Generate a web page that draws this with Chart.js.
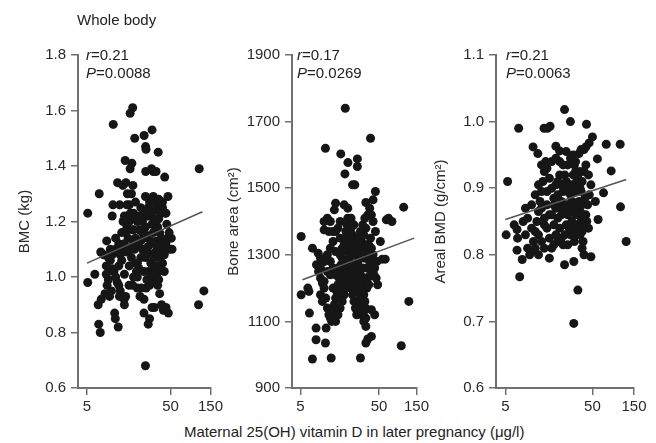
<!DOCTYPE html>
<html>
<head>
<meta charset="utf-8">
<script src="https://cdn.jsdelivr.net/npm/chart.js@4.4.0/dist/chart.umd.min.js"></script>
<style>
  body { margin: 0; background: #fff; font-family: "Liberation Sans", Arial, sans-serif; color: #222; }
  #wrap { position: relative; width: 656px; height: 443px; overflow: hidden; }
  .panel { position: absolute; top: 0; height: 420px; }
  .txt { position: absolute; font-size: 15px; line-height: 18px; white-space: nowrap; }
</style>
</head>
<body>
<div id="wrap">
  <div class="panel" style="left:0;width:226px"><canvas id="c1"></canvas></div>
  <div class="panel" style="left:222px;width:210px"><canvas id="c2"></canvas></div>
  <div class="panel" style="left:430px;width:226px"><canvas id="c3"></canvas></div>

  <div class="txt" style="left:77px;top:11px">Whole body</div>
  <div class="txt" style="left:86px;top:46px"><i>r</i>=0.21</div>
  <div class="txt" style="left:86px;top:64px"><i>P</i>=0.0088</div>
  <div class="txt" style="left:297px;top:46px"><i>r</i>=0.17</div>
  <div class="txt" style="left:297px;top:64px"><i>P</i>=0.0269</div>
  <div class="txt" style="left:506px;top:46px"><i>r</i>=0.21</div>
  <div class="txt" style="left:506px;top:64px"><i>P</i>=0.0063</div>
  <div class="txt" style="left:184px;top:423px">Maternal 25(OH) vitamin D in later pregnancy (μg/l)</div>
</div>
<script>
// x axis (log) ticks shared by all panels
const xTickValues = [5, 50, 150];

// BMC (kg) vs vitamin D
const bmcPoints = [
  [5.1,1.23],[5.1,0.98],[6.2,1.01],[7.0,1.30],[6.9,0.83],[7.2,0.80],[6.8,0.90],[7.4,0.92],[7.3,1.09],[8.6,1.13],
  [7.9,1.08],[8.5,1.04],[10.3,1.55],[10.7,0.87],[10.9,0.85],[11.8,0.82],[10.2,1.26],[10.0,1.22],[9.8,0.95],[9.3,0.93],
  [9.0,0.99],[8.7,0.97],[8.2,0.94],[12.3,1.26],[11.6,1.34],[14.6,1.34],[14.3,1.42],[15.2,1.30],[13.4,1.33],[17.7,1.33],
  [16.4,1.39],[17.2,1.41],[18.6,1.50],[16.4,1.59],[17.6,1.61],[24.1,1.51],[25.1,1.47],[25.4,1.46],[25.2,1.38],[30.0,1.53],
  [29.6,1.39],[31.0,1.38],[33.5,1.38],[35.5,1.45],[42.5,1.36],[46.5,1.29],[44,1.23],[36.7,1.26],[41.5,1.10],[39,1.14],
  [34.5,1.04],[34,1.07],[40,1.25],[110,1.39],[125,0.95],[108,0.90],[32,0.89],[30,0.89],[28,0.85],[27,0.83],
  [24,0.87],[25,0.68],[22.3,0.96],[25.5,0.96],[24,0.92],[21.5,0.93],[20,0.96],[17.6,0.97],[15.9,0.97],[14,0.90],
  [13.9,0.92],[14.5,0.93],[12.2,0.93],[12.5,0.95],
  [9.5,1.06],[10,1.03],[10.5,1.02],[11,1.00],[11.5,0.98],[12,1.04],[12.5,1.08],[13,1.06],[13.5,1.10],[14,1.12],
  [14.5,1.16],[15,1.18],[15.5,1.14],[16,1.20],[16.5,1.23],[17,1.21],[17.5,1.17],[18,1.12],[18.5,1.10],[19,1.05],
  [19.5,1.02],[20,1.00],[21,1.03],[22,1.07],[23,1.10],[24,1.14],[25,1.18],[26,1.22],[27,1.25],[28,1.27],
  [29,1.22],[30,1.19],[31,1.16],[32,1.12],[33,1.09],[34,1.13],[35,1.18],[36,1.21],[37,1.16],[38,1.12],
  [39,1.08],[40,1.05],[42,1.08],[44,1.12],[46,1.14],[48,1.10],[52,1.10],[51,1.14],[45,1.19],[43,1.23],
  [40,1.27],[38,1.23],[36,1.28],[34,1.26],[32,1.24],[30,1.27],[28,1.22],[26,1.15],[24,1.24],[22,1.25],
  [20,1.20],[19,1.27],[18,1.23],[17,1.30],[16,1.26],[15,1.26],[14,1.22],[13,1.16],[12,1.12],[11,1.10],
  [10,1.08],[9.5,1.10],[9,1.07],[8.5,1.01],[11,1.14],[13.5,1.20],[15,1.09],[17,1.07],[19,1.14],[21,1.17],
  [23,1.20],[25,1.07],[27,1.02],[29,1.05],[31,1.00],[33,0.98],[35,0.97],[37,0.94],[39,0.90],[41,0.88],
  [44,0.89],[47,0.87],[20,1.05],[22,1.13],[24,1.02],[26,0.99],[28,0.97],[30,1.08],[32,1.03],[34,1.01],
  [36,0.99],[12,0.97],[14,1.01],[16,1.04],[18,1.00],[21,1.22],[23,1.16],[25,1.29],[27,1.11],[29,1.13],
  [31,1.29],[33,1.21],[16,1.10],[18,1.17],[20,1.12],[26,1.09],[35,1.10],[38,1.03],[42,1.02],[48,1.16]
];
const bmcFit = [[5, 1.05], [120, 1.235]];
const bmcTicks = [0.6, 0.8, 1.0, 1.2, 1.4, 1.6, 1.8];

// Bone area (cm²) vs vitamin D
const areaPoints = [
  [5.1,1355],[5.1,1180],[6.4,1190],[6.2,1200],[7.1,1320],[8.4,1305],[6.5,1125],[7.9,1045],[7.9,1080],[7.1,987],
  [10.4,1035],[10.6,1080],[12.3,990],[10.4,1620],[16.3,1603],[18.4,1543],[20.1,1577],[18.6,1740],[24.6,1510],[23.0,1510],
  [26.5,1565],[26.5,1588],[39,1650],[45,1490],[42,1465],[34,1457],[14,1455],[13.5,1435],[103,1443],[120,1160],
  [96,1027],[66,1410],[73,1400],[62,1405],[52,1340],[55,1287],[60,1287],[29,990],[34,1035],[36,1047],
  [40,1055],[44,1120],[40,1135],[34,1085],[32,1100],[30,1120],
  [8,1270],[8.5,1250],[9,1230],[9.5,1215],[10,1200],[9,1180],[9.5,1160],[10.5,1170],[11,1140],[11.5,1120],
  [12,1110],[12.5,1100],[13,1130],[13.5,1150],[14,1170],[14.5,1190],[15,1210],[15.5,1230],[16,1250],[16.5,1270],
  [17,1290],[17.5,1310],[18,1330],[18.5,1350],[19,1370],[19.5,1390],[20,1410],[21,1400],[22,1380],[23,1360],
  [24,1340],[25,1320],[26,1300],[27,1280],[28,1260],[29,1240],[30,1220],[31,1200],[32,1180],[33,1160],
  [34,1140],[35,1200],[36,1230],[37,1260],[38,1280],[39,1300],[40,1320],[42,1300],[44,1260],[46,1230],
  [48,1210],[45,1370],[42,1400],[40,1420],[38,1440],[36,1420],[34,1380],[32,1360],[30,1340],[28,1320],
  [26,1350],[24,1390],[22,1410],[20,1440],[18,1450],[16,1400],[15,1380],[14,1370],[13,1370],[12,1400],
  [11,1410],[10,1400],[10,1375],[11.5,1370],[13,1340],[12,1320],[11,1300],[10,1280],[9,1260],[12,1280],
  [13,1260],[14,1240],[15,1260],[16,1300],[17,1320],[18,1280],[19,1260],[20,1240],[21,1220],[22,1200],
  [23,1180],[24,1160],[25,1140],[26,1120],[27,1130],[28,1150],[29,1170],[30,1190],[31,1260],[33,1290],
  [35,1310],[37,1330],[39,1350],[20,1310],[21,1290],[22,1270],[23,1250],[24,1230],[25,1210],[26,1190],
  [19,1200],[18,1180],[17,1160],[16,1140],[15,1120],[14,1100],[17,1230],[18,1210],[19,1340],[21,1350],
  [23,1300],[25,1270],[27,1330],[29,1370],[31,1390],[33,1410],[35,1330],[37,1290],[41,1270],[43,1240],
  [47,1280],[9,1290],[11,1250],[13,1200],[15,1170],[17,1190],[27,1200],[29,1290],[31,1310],[33,1230],
  [35,1260],[37,1210],[39,1240],[22,1330],[24,1300],[20,1370],[16,1350],[14,1310],[12,1240],[10,1220],
  [26,1250],[28,1210],[30,1160],[32,1130],[34,1110]
];
const areaFit = [[5.3, 1225], [140, 1350]];
const areaTicks = [900, 1100, 1300, 1500, 1700, 1900];

// Areal BMD (g/cm²) vs vitamin D
const bmdPoints = [
  [5.3,0.91],[5.1,0.83],[7.1,0.99],[7.3,0.767],[7.8,0.793],[6.8,0.807],[6.3,0.845],[6.8,0.838],[6.9,0.825],[10.4,0.962],
  [11.8,0.952],[13.9,0.99],[15.2,0.99],[16.3,0.993],[23.9,1.018],[27.9,1.0],[42.7,0.996],[50,0.977],[45.8,0.968],[42,0.962],
  [40,0.958],[57,0.944],[72,0.966],[104,0.966],[82,0.926],[67,0.893],[105,0.872],[122,0.82],[48,0.797],[58,0.853],
  [54,0.88],[23.9,0.785],[30.5,0.79],[34,0.747],[30.5,0.697],[35,0.952],[21,0.956],[19,0.963],[37,0.958],
  [8,0.85],[8.5,0.83],[9,0.81],[9.5,0.80],[10,0.805],[10.5,0.82],[11,0.835],[11.5,0.85],[12,0.865],[12.5,0.88],
  [13,0.895],[13.5,0.91],[14,0.925],[14.5,0.94],[15,0.93],[16,0.915],[17,0.90],[18,0.885],[19,0.87],[20,0.855],
  [21,0.84],[22,0.825],[23,0.815],[24,0.83],[25,0.845],[26,0.86],[27,0.875],[28,0.89],[29,0.905],[30,0.92],
  [31,0.935],[32,0.925],[33,0.91],[34,0.895],[35,0.88],[36,0.865],[37,0.85],[38,0.835],[39,0.82],[40,0.84],
  [42,0.86],[44,0.875],[46,0.89],[48,0.905],[45,0.92],[42,0.935],[40,0.925],[38,0.91],[36,0.90],[34,0.92],
  [32,0.94],[30,0.95],[28,0.945],[26,0.935],[24,0.92],[22,0.905],[20,0.89],[18,0.875],[16,0.86],[14,0.845],
  [12,0.83],[10,0.84],[9,0.855],[8.5,0.87],[10,0.875],[11,0.89],[12,0.905],[13,0.87],[14,0.855],[15,0.84],
  [16,0.825],[17,0.81],[18,0.815],[19,0.83],[20,0.82],[21,0.87],[22,0.88],[23,0.895],[24,0.90],[25,0.91],
  [26,0.895],[27,0.905],[28,0.865],[29,0.85],[30,0.835],[31,0.82],[32,0.83],[33,0.845],[34,0.86],[35,0.905],
  [36,0.925],[37,0.895],[38,0.875],[39,0.86],[41,0.885],[43,0.85],[45,0.84],[15,0.875],[17,0.86],[19,0.905],
  [21,0.92],[23,0.935],[25,0.875],[27,0.84],[29,0.88],[31,0.895],[33,0.875],[35,0.86],[13,0.82],[11,0.81],
  [12,0.80],[14,0.81],[16,0.795],[18,0.845],[20,0.91],[22,0.86],[24,0.87],[26,0.815],[28,0.83],[30,0.87],
  [32,0.86],[34,0.84],[36,0.83],[38,0.81],[40,0.80],[17,0.94],[19,0.945],[21,0.94],[25,0.955],[15,0.895],
  [13,0.935]
];
const bmdFit = [[5, 0.853], [122, 0.913]];
const bmdTicks = [0.6, 0.7, 0.8, 0.9, 1.0, 1.1];

const axisGrey = '#707070';
const textColor = '#2a2a2a';
const toXY = arr => arr.map(p => ({ x: p[0], y: p[1] }));

function makePanel(id, points, fit, yTicks, yLabel, decimals, yAxisWidth, titlePad, rightPad) {
  new Chart(document.getElementById(id), {
    type: 'scatter',
    data: {
      datasets: [
        {
          data: toXY(points),
          backgroundColor: '#161616',
          borderWidth: 0,
          pointRadius: 4.5,
          order: 2
        },
        {
          data: toXY(fit),
          showLine: true,
          borderColor: '#555',
          borderWidth: 1.5,
          pointRadius: 0,
          order: 1
        }
      ]
    },
    options: {
      responsive: true,
      maintainAspectRatio: false,
      animation: false,
      layout: { padding: { top: 55, right: rightPad, bottom: 0, left: 0 } },
      plugins: { legend: { display: false }, tooltip: { enabled: false } },
      scales: {
        x: {
          type: 'logarithmic',
          min: 3.9,
          max: 150,
          afterBuildTicks: s => { s.ticks = xTickValues.map(v => ({ value: v })); },
          afterFit: s => { s.height = 32; },
          ticks: {
            autoSkip: false, maxRotation: 0, padding: 3, color: textColor,
            font: { size: 15, family: '"Liberation Sans", Arial, sans-serif' },
            callback: v => String(v)
          },
          grid: { drawOnChartArea: false, drawTicks: true, tickLength: 7, color: axisGrey, lineWidth: 1.5 },
          border: { display: true, color: axisGrey, width: 2 }
        },
        y: {
          min: yTicks[0],
          max: yTicks[yTicks.length - 1],
          afterBuildTicks: s => { s.ticks = yTicks.map(v => ({ value: v })); },
          afterFit: s => { s.width = yAxisWidth; },
          ticks: {
            padding: 5, color: textColor,
            font: { size: 15, family: '"Liberation Sans", Arial, sans-serif' },
            callback: v => Number(v).toFixed(decimals)
          },
          grid: { drawOnChartArea: false, drawTicks: true, tickLength: 7, color: axisGrey, lineWidth: 1.5 },
          border: { display: true, color: axisGrey, width: 2 },
          title: {
            display: true, text: yLabel, color: textColor,
            font: { size: 15, family: '"Liberation Sans", Arial, sans-serif' },
            padding: { top: titlePad, bottom: 0 }
          }
        }
      }
    }
  });
}

makePanel('c1', bmcPoints, bmcFit, bmcTicks, 'BMC (kg)', 1, 78, 16, 14);
makePanel('c2', areaPoints, areaFit, areaTicks, 'Bone area (cm²)', 0, 70, 3, 15);
makePanel('c3', bmdPoints, bmdFit, bmdTicks, 'Areal BMD (g/cm²)', 1, 66, 2, 22);
</script>
</body>
</html>
